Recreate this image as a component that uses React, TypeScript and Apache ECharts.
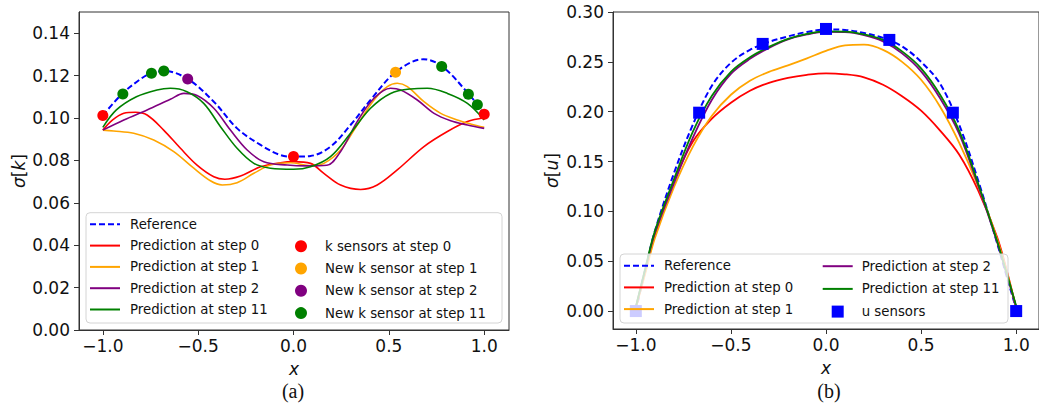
import React, { useEffect, useRef } from "react";
import * as echarts from "echarts";

// ---- panel (a): conductivity std, sigma[k] ----
const kRefX = [-1.0, -0.9, -0.8, -0.747, -0.68, -0.555, -0.418, -0.296, -0.173, -0.068, 0.0, 0.089, 0.194, 0.299, 0.404, 0.535, 0.681, 0.78, 0.92, 0.964, 1.0];
const kRefY = [0.1012, 0.1113, 0.1185, 0.1211, 0.1222, 0.1184, 0.1077, 0.0951, 0.0873, 0.0825, 0.0818, 0.0821, 0.0865, 0.0967, 0.1085, 0.1216, 0.1277, 0.1243, 0.1112, 0.1062, 0.1018];

const kStep0X = [-1.0, -0.95, -0.89, -0.83, -0.768, -0.681, -0.593, -0.506, -0.418, -0.36, -0.278, -0.173, -0.068, 0.0, 0.089, 0.159, 0.247, 0.352, 0.439, 0.544, 0.684, 0.807, 0.912, 1.0];
const kStep0Y = [0.0943, 0.0990, 0.1022, 0.1027, 0.1014, 0.0943, 0.0857, 0.0778, 0.0723, 0.0711, 0.0726, 0.0770, 0.0789, 0.0794, 0.0786, 0.0739, 0.0684, 0.0663, 0.0684, 0.0755, 0.0865, 0.0936, 0.0983, 0.1001];

const kStep1X = [-1.0, -0.943, -0.838, -0.733, -0.628, -0.523, -0.436, -0.374, -0.296, -0.208, -0.121, -0.016, 0.089, 0.159, 0.247, 0.334, 0.422, 0.492, 0.544, 0.597, 0.684, 0.772, 0.859, 0.929, 1.0];
const kStep1Y = [0.0943, 0.0939, 0.0928, 0.0896, 0.0841, 0.0763, 0.0704, 0.0684, 0.0695, 0.0739, 0.0778, 0.0789, 0.0775, 0.0786, 0.0849, 0.0967, 0.1085, 0.1148, 0.1164, 0.1148, 0.1077, 0.1022, 0.0991, 0.0972, 0.0956];

const kStep2X = [-1.0, -0.89, -0.768, -0.646, -0.575, -0.506, -0.418, -0.331, -0.243, -0.156, -0.033, 0.072, 0.175, 0.247, 0.334, 0.422, 0.509, 0.562, 0.649, 0.737, 0.824, 0.912, 1.0];
const kStep2Y = [0.0943, 0.0991, 0.1038, 0.1088, 0.1116, 0.1106, 0.1046, 0.0943, 0.0849, 0.0794, 0.0778, 0.0774, 0.0777, 0.0842, 0.0983, 0.1093, 0.1140, 0.1132, 0.1085, 0.1022, 0.0987, 0.0967, 0.0951];

const kStep11X = [-1.0, -0.929, -0.824, -0.716, -0.646, -0.559, -0.471, -0.383, -0.296, -0.208, -0.121, 0.0, 0.089, 0.194, 0.299, 0.404, 0.509, 0.614, 0.702, 0.807, 0.912, 1.0];
const kStep11Y = [0.0956, 0.1038, 0.1100, 0.1132, 0.1140, 0.1124, 0.1069, 0.0959, 0.0857, 0.0786, 0.0763, 0.0758, 0.0770, 0.0818, 0.0928, 0.1046, 0.1116, 0.1137, 0.1140, 0.1116, 0.1069, 0.0991];

const kSensor0X = [-1.0, 0.0, 1.0];
const kSensor0Y = [0.1012, 0.0818, 0.1018];
const kSensor1X = [0.535];
const kSensor1Y = [0.1216];
const kSensor2X = [-0.555];
const kSensor2Y = [0.1184];
const kSensor11X = [-0.895, -0.745, -0.68, 0.777, 0.917, 0.964];
const kSensor11Y = [0.1113, 0.1211, 0.1222, 0.1243, 0.1112, 0.1062];

const kXTicks = [-1.0, -0.5, 0.0, 0.5, 1.0];
const kYTicks = [0.0, 0.02, 0.04, 0.06, 0.08, 0.1, 0.12, 0.14];

// ---- panel (b): state std, sigma[u] ----
const uX = [-1.0, -0.95, -0.9, -0.8, -0.7, -0.6, -0.5, -0.4, -0.3, -0.2, -0.1, 0.0, 0.1, 0.2, 0.3, 0.4, 0.5, 0.6, 0.7, 0.8, 0.9, 0.95, 1.0];
const uReference = [0.0, 0.042, 0.080, 0.138, 0.187, 0.226, 0.249, 0.262, 0.270, 0.2755, 0.2800, 0.2825, 0.2820, 0.2790, 0.2740, 0.2655, 0.2500, 0.2280, 0.1870, 0.131, 0.068, 0.035, 0.002];
const uStep0 = [0.003, 0.040, 0.076, 0.130, 0.170, 0.193, 0.209, 0.221, 0.229, 0.234, 0.237, 0.2385, 0.2375, 0.2345, 0.2270, 0.2155, 0.2010, 0.1810, 0.1570, 0.121, 0.074, 0.041, 0.003];
const uStep1 = [0.003, 0.038, 0.073, 0.124, 0.165, 0.196, 0.217, 0.231, 0.240, 0.2465, 0.2535, 0.2610, 0.2665, 0.2672, 0.2620, 0.2500, 0.2320, 0.2050, 0.1690, 0.125, 0.072, 0.040, 0.003];
const uStep2 = [0.004, 0.042, 0.078, 0.128, 0.174, 0.212, 0.238, 0.253, 0.264, 0.2725, 0.2775, 0.2800, 0.2798, 0.2768, 0.2705, 0.2585, 0.2405, 0.2135, 0.178, 0.126, 0.069, 0.037, 0.004];
const uStep11 = [0.004, 0.043, 0.080, 0.132, 0.180, 0.216, 0.240, 0.2545, 0.265, 0.2730, 0.2780, 0.2805, 0.2803, 0.2775, 0.2720, 0.2605, 0.2435, 0.2170, 0.181, 0.128, 0.070, 0.038, 0.005];

const uSensorX = [-1.0, -0.667, -0.333, 0.0, 0.333, 0.667, 1.0];
const uSensorY = [0.0, 0.199, 0.268, 0.283, 0.272, 0.199, 0.0];

const uXTicks = [-1.0, -0.5, 0.0, 0.5, 1.0];
const uYTicks = [0.0, 0.05, 0.1, 0.15, 0.2, 0.25, 0.3];

const FONT = "DejaVu Sans";
const AXIS_COLOR = "#333";
const TEXT_COLOR = "#111";

const pairs = (xs: number[], ys: number[]) => xs.map((x, i) => [x, ys[i]]);

const fmtX = (v: number) => (v < 0 ? "\u2212" : "") + Math.abs(v).toFixed(1);
const fmtY = (v: number) => v.toFixed(2);

const nameStyle = {
  fontFamily: FONT,
  fontSize: 17,
  color: TEXT_COLOR,
  rich: { i: { fontFamily: FONT, fontSize: 17, fontStyle: "italic", color: TEXT_COLOR } },
};

function valueAxis(
  gridIndex: number,
  min: number,
  max: number,
  ticks: number[],
  fmt: (v: number) => string,
  labelMargin: number,
  name: string,
  nameGap: number,
  rotate: boolean
) {
  return {
    type: "value",
    gridIndex,
    min,
    max,
    name,
    nameLocation: "middle",
    nameGap,
    nameRotate: rotate ? 90 : 0,
    nameTextStyle: nameStyle,
    splitLine: { show: false },
    axisLine: { show: true, onZero: false, lineStyle: { color: AXIS_COLOR, width: 1 } },
    axisTick: { show: true, length: 5, customValues: ticks, lineStyle: { color: AXIS_COLOR, width: 1 } },
    axisLabel: {
      customValues: ticks,
      formatter: fmt,
      fontFamily: FONT,
      fontSize: 17,
      color: TEXT_COLOR,
      margin: labelMargin,
    },
  };
}

function lineSeries(name: string, xi: number, data: number[][], color: string, width: number, dashed = false) {
  return {
    type: "line",
    name,
    xAxisIndex: xi,
    yAxisIndex: xi,
    data,
    smooth: 0.35,
    symbol: "none",
    lineStyle: { color, width, type: dashed ? [6, 3] : "solid" },
    itemStyle: { color },
    z: 2,
  };
}

function scatterSeries(name: string, xi: number, data: number[][], color: string, symbol: string, size: number) {
  return {
    type: "scatter",
    name,
    xAxisIndex: xi,
    yAxisIndex: xi,
    data,
    symbol,
    symbolSize: size,
    itemStyle: { color, opacity: 1 },
    z: 3,
  };
}

const legendText = (padLeft: number, lh: number) => ({
  fontFamily: FONT,
  fontSize: 13.3,
  color: TEXT_COLOR,
  lineHeight: lh,
  padding: [0, 0, 0, padLeft],
});

// legend entry drawn as a plain line (no marker in the middle)
const lineEntry = (name: string) => ({ name, itemStyle: { opacity: 0 } });
const SQUARE_ICON = "path://M0,0L10,0L10,10L0,10Z";

export default function App() {
  const ref = useRef<HTMLDivElement>(null);

  useEffect(() => {
    if (!ref.current) return;
    const chart = echarts.init(ref.current, null, { renderer: "svg" });

    chart.setOption({
      animation: false,
      backgroundColor: "#fff",
      grid: [
        { left: 79, top: 12, width: 430, height: 318, show: true, borderColor: AXIS_COLOR, borderWidth: 1, backgroundColor: "transparent" },
        { left: 613, top: 12, width: 430, height: 317, show: true, borderColor: AXIS_COLOR, borderWidth: 1, backgroundColor: "transparent" },
      ],
      xAxis: [
        valueAxis(0, -1.125, 1.13, kXTicks, fmtX, 7, "{i|x}", 30, false),
        valueAxis(1, -1.12, 1.12, uXTicks, fmtX, 7, "{i|x}", 30, false),
      ],
      yAxis: [
        valueAxis(0, 0, 0.15, kYTicks, fmtY, 9, "{i|\u03c3}[{i|k}]", 52, true),
        valueAxis(1, -0.018, 0.3, uYTicks, fmtY, 9, "{i|\u03c3}[{i|u}]", 53, true),
      ],
      legend: [
        {
          left: 89, top: 217.3, orient: "vertical", padding: 0, itemWidth: 30, itemHeight: 14, itemGap: 7.3,
          selectedMode: false, textStyle: legendText(5, 14), z: 5,
          data: ["Reference", "Prediction at step 0", "Prediction at step 1", "Prediction at step 2", "Prediction at step 11"].map(lineEntry),
        },
        {
          left: 295, top: 239.7, orient: "vertical", padding: 0, itemWidth: 30, itemHeight: 12, itemGap: 9.3,
          selectedMode: false, textStyle: legendText(4, 12), z: 5,
          data: ["k sensors at step 0", "New k sensor at step 1", "New k sensor at step 2", "New k sensor at step 11"],
        },
        {
          left: 623, top: 258.7, orient: "vertical", padding: 0, itemWidth: 30, itemHeight: 14, itemGap: 7.7,
          selectedMode: false, textStyle: legendText(5, 14), z: 5,
          data: ["Reference", "Prediction at step 0", "Prediction at step 1"].map(lineEntry),
        },
        {
          left: 821.7, top: 259.7, orient: "vertical", padding: 0, itemWidth: 30, itemHeight: 12, itemGap: 9.7,
          selectedMode: false, textStyle: legendText(4, 12), z: 5,
          data: [lineEntry("Prediction at step 2"), lineEntry("Prediction at step 11"), { name: "u sensors", icon: SQUARE_ICON }],
        },
      ],
      graphic: [
        {
          type: "rect", z: 4, silent: true,
          shape: { x: 86, y: 212.7, width: 416, height: 110.3, r: 4 },
          style: { fill: "rgba(255,255,255,0.8)", stroke: "#d4d4d4", lineWidth: 1 },
        },
        {
          type: "rect", z: 4, silent: true,
          shape: { x: 620, y: 254, width: 388, height: 69, r: 4 },
          style: { fill: "rgba(255,255,255,0.8)", stroke: "#d4d4d4", lineWidth: 1 },
        },
        {
          type: "text", x: 293, y: 391, z: 5,
          style: { text: "(a)", fontFamily: "Liberation Serif", fontSize: 20, fill: TEXT_COLOR, align: "center", verticalAlign: "middle" },
        },
        {
          type: "text", x: 829, y: 391, z: 5,
          style: { text: "(b)", fontFamily: "Liberation Serif", fontSize: 20, fill: TEXT_COLOR, align: "center", verticalAlign: "middle" },
        },
      ],
      series: [
        lineSeries("Reference", 0, pairs(kRefX, kRefY), "#0000ff", 2, true),
        lineSeries("Prediction at step 0", 0, pairs(kStep0X, kStep0Y), "#ff0000", 1.6),
        lineSeries("Prediction at step 1", 0, pairs(kStep1X, kStep1Y), "#ffa500", 1.6),
        lineSeries("Prediction at step 2", 0, pairs(kStep2X, kStep2Y), "#800080", 1.6),
        lineSeries("Prediction at step 11", 0, pairs(kStep11X, kStep11Y), "#008000", 1.6),
        scatterSeries("k sensors at step 0", 0, pairs(kSensor0X, kSensor0Y), "#ff0000", "circle", 11),
        scatterSeries("New k sensor at step 1", 0, pairs(kSensor1X, kSensor1Y), "#ffa500", "circle", 11),
        scatterSeries("New k sensor at step 2", 0, pairs(kSensor2X, kSensor2Y), "#800080", "circle", 11),
        scatterSeries("New k sensor at step 11", 0, pairs(kSensor11X, kSensor11Y), "#008000", "circle", 11),

        lineSeries("Reference", 1, pairs(uX, uReference), "#0000ff", 2, true),
        lineSeries("Prediction at step 0", 1, pairs(uX, uStep0), "#ff0000", 1.8),
        lineSeries("Prediction at step 1", 1, pairs(uX, uStep1), "#ffa500", 1.8),
        lineSeries("Prediction at step 2", 1, pairs(uX, uStep2), "#800080", 1.8),
        lineSeries("Prediction at step 11", 1, pairs(uX, uStep11), "#008000", 1.8),
        scatterSeries("u sensors", 1, pairs(uSensorX, uSensorY), "#0000ff", "rect", 12),
      ],
    });

    return () => chart.dispose();
  }, []);

  return (
    <div
      ref={ref}
      style={{ position: "fixed", left: 0, top: 0, width: 1039, height: 403, background: "#fff" }}
    />
  );
}
